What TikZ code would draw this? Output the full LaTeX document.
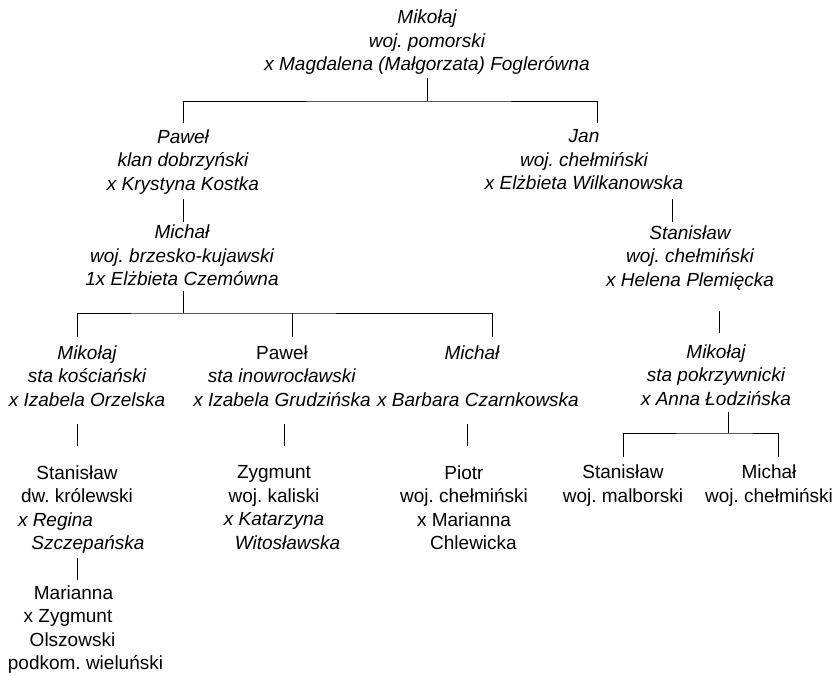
\documentclass[tikz,border=0pt]{standalone}
\usepackage{fontspec}
\setmainfont{Liberation Sans}
\frenchspacing
\tikzset{
  person/.style={align=center, inner sep=0pt, font=\fontsize{19}{23.5}\selectfont},
  iperson/.style={person, font=\fontsize{19}{23.5}\selectfont\itshape},
  link/.style={line width=0.9pt},
}
\newcommand{\nudge}[2]{\mbox{\hspace*{#1}#2\hspace*{-#1}}}

\begin{document}
\begin{tikzpicture}[x=1pt, y=-1pt]
  \useasboundingbox (0,0) rectangle (834,675);

  % generation I
  \node[iperson] (mikA) at (427,42.5) {Mikołaj\\woj. pomorski\\x Magdalena (Małgorzata) Foglerówna};

  % generation II
  \node[iperson] (pawA) at (183,162) {Paweł\\klan dobrzyński\\x Krystyna Kostka};
  \node[iperson] (janA) at (584,160) {Jan\\woj. chełmiński\\x Elżbieta Wilkanowska};

  % generation III
  \node[iperson] (micA) at (182,255.5) {Michał\\woj. brzesko-kujawski\\1x Elżbieta Czemówna};
  \node[iperson] (staA) at (690,257.5) {Stanisław\\woj. chełmiński\\x Helena Plemięcka};

  % generation IV
  \node[iperson] (mikB) at (87,376) {Mikołaj\\sta kościański\\x Izabela Orzelska};
  \node[person] (pawB) at (282,376) {Paweł\\\textit{sta inowrocławski}\\\textit{x Izabela Grudzińska}};
  \node[iperson] (micB) at (478,376) {\nudge{-6pt}{Michał}\\\mbox{}\\x Barbara Czarnkowska};
  \node[iperson] (mikC) at (716,375) {Mikołaj\\sta pokrzywnicki\\x Anna Łodzińska};

  % generation V
  \node[person] (staB) at (77,509.5) {Stanisław\\dw. królewski\\\nudge{-21.5pt}{\textit{x Regina}}\\\nudge{11pt}{\textit{Szczepańska}}};
  \node[person] (zygB) at (274,507.5) {Zygmunt\\woj. kaliski\\\textit{x Katarzyna}\\\nudge{13.5pt}{\textit{Witosławska}}};
  \node[person] (pioB) at (464,507.5) {Piotr\\woj. chełmiński\\x Marianna\\\nudge{9.5pt}{Chlewicka}};
  \node[person] (staC) at (623,485.5) {Stanisław\\woj. malborski};
  \node[person] (micC) at (769,485.5) {Michał\\woj. chełmiński};

  % generation VI
  \node[person] (marB) at (77,629.5) {\nudge{-3.5pt}{Marianna}\\\nudge{-9pt}{x Zygmunt}\\\nudge{-4.5pt}{Olszowski}\\\nudge{8.5pt}{podkom. wieluński}};

  % links
  \coordinate (mikA-out) at (427,78);
  \coordinate (forkA) at (427,101);
  \coordinate (pawA-in) at (183,123);
  \coordinate (janA-in) at (597,123);
  \draw[link] (mikA-out) -- (forkA);
  \draw[link] (pawA-in) |- (forkA) -| (janA-in);

  \coordinate (pawA-out) at (183,199);
  \coordinate (micA-in) at (183,222);
  \draw[link] (pawA-out) -- (micA-in);
  \coordinate (janA-out) at (672,199);
  \coordinate (staA-in) at (672,222);
  \draw[link] (janA-out) -- (staA-in);

  \coordinate (micA-out) at (183,291);
  \coordinate (forkB) at (183,313);
  \coordinate (mikB-in) at (77,337);
  \coordinate (pawB-in) at (292,337);
  \coordinate (micB-in) at (492,337);
  \draw[link] (micA-out) -- (forkB);
  \draw[link] (mikB-in) |- (forkB) -| (micB-in);
  \draw[link] (pawB-in) -- (pawB-in |- forkB);

  \coordinate (staA-out) at (719,311);
  \coordinate (mikC-in) at (719,333);
  \draw[link] (staA-out) -- (mikC-in);

  \coordinate (mikB-out) at (77,424);
  \coordinate (staB-in) at (77,446);
  \draw[link] (mikB-out) -- (staB-in);
  \coordinate (pawB-out) at (284,424);
  \coordinate (zygB-in) at (284,446);
  \draw[link] (pawB-out) -- (zygB-in);
  \coordinate (micB-out) at (467,424);
  \coordinate (pioB-in) at (467,446);
  \draw[link] (micB-out) -- (pioB-in);

  \coordinate (mikC-out) at (728,412);
  \coordinate (forkC) at (728,433);
  \coordinate (staC-in) at (623,457);
  \coordinate (micC-in) at (778,457);
  \draw[link] (mikC-out) -- (forkC);
  \draw[link] (staC-in) |- (forkC) -| (micC-in);

  \coordinate (staB-out) at (77,558);
  \coordinate (marB-in) at (77,580);
  \draw[link] (staB-out) -- (marB-in);
\end{tikzpicture}
\end{document}
